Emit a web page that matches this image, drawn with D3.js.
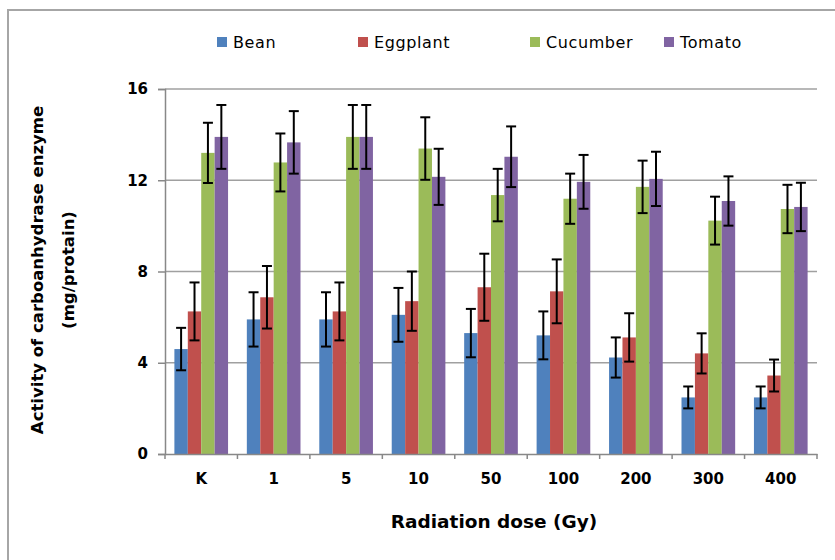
<!DOCTYPE html>
<html>
<head>
<meta charset="utf-8">
<script src="https://cdn.jsdelivr.net/npm/d3@7"></script>
<style>
  html, body { margin: 0; padding: 0; background: #fff; }
  svg { display: block; }
  .tick text { font-family: "DejaVu Sans", Verdana, sans-serif; font-weight: bold; font-size: 14px; fill: #000; }
</style>
</head>
<body>
<svg id="chart" width="835" height="560"></svg>
<script>
// radiation doses (categories)
const doses = ["K", "1", "5", "10", "50", "100", "200", "300", "400"];
const crops = ["Bean", "Eggplant", "Cucumber", "Tomato"];
const colors = ["#4f81bd", "#c0504d", "#9bbb59", "#8064a2"];

// mean activity per crop, one value per dose
const bean      = [4.6, 5.9, 5.9, 6.1, 5.3, 5.2, 4.23, 2.48, 2.48];
const eggplant  = [6.25, 6.87, 6.25, 6.7, 7.31, 7.13, 5.11, 4.41, 3.44];
const cucumber  = [13.2, 12.78, 13.9, 13.39, 11.35, 11.19, 11.71, 10.23, 10.74];
const tomato    = [13.9, 13.66, 13.9, 12.15, 13.03, 11.93, 12.06, 11.09, 10.83];

// error bar half-widths
const beanErr     = [0.93, 1.19, 1.19, 1.18, 1.06, 1.05, 0.88, 0.48, 0.48];
const eggplantErr = [1.27, 1.37, 1.27, 1.3, 1.47, 1.4, 1.06, 0.88, 0.7];
const cucumberErr = [1.32, 1.27, 1.4, 1.37, 1.15, 1.1, 1.15, 1.05, 1.06];
const tomatoErr   = [1.4, 1.37, 1.4, 1.23, 1.33, 1.18, 1.19, 1.08, 1.06];

const yTicks = [0, 4, 8, 12, 16];

const series = [bean, eggplant, cucumber, tomato];
const errors = [beanErr, eggplantErr, cucumberErr, tomatoErr];

const svg = d3.select("#chart");
const L = 165, R = 817, T = 89, B = 454;

// outer chart border
svg.append("rect")
  .attr("x", 8).attr("y", 10).attr("width", 840).attr("height", 560)
  .attr("fill", "none").attr("stroke", "#a6a6a6").attr("stroke-width", 2);

const x0 = d3.scaleBand().domain(doses).range([L, R]).paddingInner(0).paddingOuter(0);
const x1 = d3.scaleBand().domain(crops).range([0, x0.bandwidth()]).paddingOuter(0.7).paddingInner(0);
const y = d3.scaleLinear().domain([0, 16]).range([B, T]);

// gridlines
svg.append("g")
  .selectAll("line")
  .data(yTicks.filter(d => d > 0))
  .join("line")
    .attr("x1", L).attr("x2", R)
    .attr("y1", d => y(d)).attr("y2", d => y(d))
    .attr("stroke", "#a0a0a0").attr("stroke-width", 1.5);

// bars
const groups = svg.append("g")
  .selectAll("g")
  .data(doses)
  .join("g")
    .attr("transform", d => `translate(${x0(d)},0)`);

const cells = groups.selectAll("g.cell")
  .data((d, i) => crops.map((c, k) => ({ crop: c, k, v: series[k][i], e: errors[k][i] })))
  .join("g").attr("class", "cell");

cells.append("rect")
  .attr("x", d => x1(d.crop))
  .attr("y", d => y(d.v))
  .attr("width", x1.bandwidth())
  .attr("height", d => y(0) - y(d.v))
  .attr("fill", d => colors[d.k]);

// error bars
const cx = d => x1(d.crop) + x1.bandwidth() / 2;
cells.append("line")
  .attr("x1", cx).attr("x2", cx)
  .attr("y1", d => y(d.v + d.e)).attr("y2", d => y(d.v - d.e))
  .attr("stroke", "#000").attr("stroke-width", 2);
cells.selectAll("line.cap")
  .data(d => [d.v + d.e, d.v - d.e].map(val => ({ ...d, val })))
  .join("line").attr("class", "cap")
    .attr("x1", d => cx(d) - 5).attr("x2", d => cx(d) + 5)
    .attr("y1", d => y(d.val)).attr("y2", d => y(d.val))
    .attr("stroke", "#000").attr("stroke-width", 2);

// y axis
const yAxis = svg.append("g")
  .attr("transform", `translate(${L},0)`)
  .call(d3.axisLeft(y).tickValues(yTicks).tickSize(7).tickPadding(10));
yAxis.select(".domain").attr("stroke", "#888").attr("stroke-width", 1.5);
yAxis.selectAll(".tick line").attr("stroke", "#888").attr("stroke-width", 1.5);
yAxis.selectAll(".tick text").style("font-size", "15px");

// x axis
const xAxis = svg.append("g")
  .attr("transform", `translate(0,${B})`)
  .call(d3.axisBottom(x0).tickSize(0).tickPadding(19));
xAxis.select(".domain").attr("stroke", "#888").attr("stroke-width", 1.5);
xAxis.selectAll(".tick line").remove();
xAxis.selectAll(".tick text").style("font-size", "15px");
xAxis.append("g")
  .selectAll("line")
  .data(d3.range(doses.length + 1))
  .join("line")
    .attr("x1", i => L + i * x0.step()).attr("x2", i => L + i * x0.step())
    .attr("y1", 0).attr("y2", 5)
    .attr("stroke", "#888").attr("stroke-width", 1.5);

// axis titles
svg.append("text")
  .attr("x", 494).attr("y", 528)
  .attr("text-anchor", "middle")
  .style("font-family", "'DejaVu Sans', Verdana, sans-serif")
  .style("font-weight", "bold").style("font-size", "18.5px")
  .text("Radiation dose (Gy)");

const yTitle = svg.append("text")
  .attr("transform", "translate(0,270) rotate(-90)")
  .attr("text-anchor", "middle")
  .style("font-family", "'DejaVu Sans', Verdana, sans-serif")
  .style("font-weight", "bold").style("font-size", "16.5px");
yTitle.append("tspan").attr("x", 0).attr("y", 43).text("Activity of carboanhydrase enzyme");
yTitle.append("tspan").attr("x", 0).attr("y", 74).text("(mg/protain)");

// legend
const legendX = [217, 358, 530, 664];
const legend = svg.append("g")
  .selectAll("g")
  .data(crops)
  .join("g")
    .attr("transform", (d, i) => `translate(${legendX[i]},42)`);
legend.append("rect")
  .attr("x", 0).attr("y", -5).attr("width", 10).attr("height", 10)
  .attr("fill", (d, i) => colors[i]);
legend.append("text")
  .attr("x", 16).attr("y", 6)
  .style("font-family", "'DejaVu Sans', Tahoma, sans-serif")
  .style("font-size", "16px")
  .style("letter-spacing", "0.6px")
  .text(d => d);
</script>
</body>
</html>
